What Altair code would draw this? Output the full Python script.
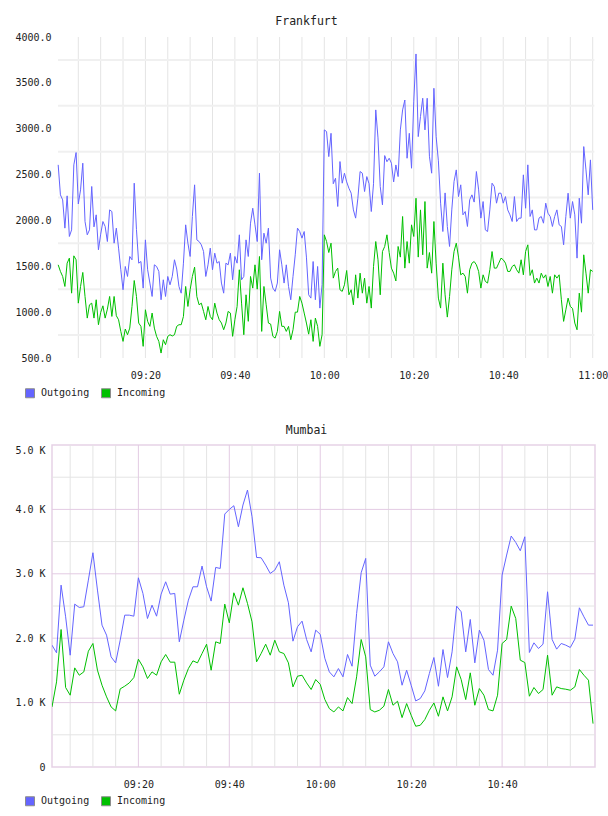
import altair as alt
import pandas as pd

# ---------------------------------------------------------------------------
# Traffic samples
# Frankfurt: one sample every 30 s, 09:00:30 .. 11:00:00
fra_outgoing = [
    2606, 2279, 2224, 1916, 2268, 1825, 1897, 2606, 2740, 2180,
    2333, 2624, 1988, 1843, 1897, 2370, 1930, 2061, 1680, 1850,
    1988, 1934, 1770, 2115, 2097, 1752, 1916, 1698, 1462, 1244,
    1498, 1389, 1607, 1571, 2406, 1900, 1534, 1552, 1262, 1788,
    1462, 1317, 1171, 1516, 1498, 1444, 1135, 1353, 1171, 1389,
    1298, 1389, 1571, 1470, 1280, 1207, 1534, 1952, 1752, 1607,
    2043, 2388, 1788, 1770, 1734, 1661, 1389, 1516, 1698, 1462,
    1643, 1534, 1552, 1317, 1207, 1534, 1516, 1643, 1353, 1607,
    1534, 1843, 1353, 1389, 1788, 1607, 1970, 2133, 1952, 1770,
    2515, 1571, 1861, 1752, 1916, 1371, 1262, 1226, 1317, 1680,
    1516, 1317, 1516, 1280, 1135, 1389, 1625, 1916, 1879, 1807,
    1879, 1600, 1189, 1153, 1552, 1135, 1498, 1044, 1300, 2987,
    2969, 2696, 2950, 2400, 2460, 2152, 2642, 2406, 2515, 2420,
    2351, 2297, 2115, 2025, 2242, 2533, 2515, 2315, 2478, 2400,
    2097, 2400, 3205, 2900, 2370, 2170, 2707, 2640, 2678, 2624,
    2420, 2605, 2478, 2987, 3205, 3313, 2678, 2950, 2569, 3300,
    3815, 2914, 3132, 3332, 2987, 3332, 2700, 2515, 3441, 2914,
    2650, 2188, 1879, 2300, 1934, 1716, 2115, 2424, 2551, 2260,
    2388, 2061, 2097, 1934, 2224, 2279, 2200, 2533, 2333, 2025,
    2206, 1897, 1879, 2115, 2406, 2370, 2188, 2297, 2297, 2188,
    2260, 2115, 2061, 1988, 2260, 1988, 2025, 2025, 2497, 2133,
    2606, 2043, 2115, 1897, 1897, 2025, 2043, 1970, 2188, 2079,
    2043, 1934, 2043, 2115, 1952, 1934, 1734, 2043, 2297, 2025,
    2206, 2061, 1589, 2242, 1970, 2805, 2551, 2279, 2660, 2115,
]
fra_incoming = [
    1516, 1444, 1389, 1280, 1534, 1589, 1207, 1614, 1571, 1098,
    1280, 1433, 1171, 935, 1080, 1098, 935, 1135, 863, 997,
    1069, 935, 1033, 1171, 953, 1171, 961, 917, 790, 681,
    816, 754, 826, 1062, 1345, 1171, 881, 845, 627, 1026,
    899, 845, 990, 826, 736, 681, 554, 699, 645, 736,
    754, 740, 754, 845, 863, 863, 953, 1280, 1062, 1244,
    1389, 1491, 1170, 1080, 1098, 1008, 917, 1062, 953, 917,
    1098, 990, 917, 881, 808, 881, 1008, 990, 736, 917,
    1062, 1462, 1098, 754, 1189, 900, 1389, 1262, 1516, 1250,
    1607, 790, 1280, 1080, 881, 870, 736, 717, 790, 1008,
    845, 845, 790, 845, 699, 808, 1000, 1000, 1171, 1098,
    990, 881, 760, 917, 681, 935, 845, 627, 754, 1843,
    1770, 1650, 1752, 1371, 1444, 1480, 1244, 1226, 1298, 1454,
    1189, 1244, 1080, 1407, 1153, 1425, 1207, 1371, 1098, 1280,
    1044, 1498, 1770, 1571, 1189, 1661, 1716, 1843, 1650, 1480,
    1425, 1340, 1716, 1600, 2043, 1480, 1770, 1534, 1952, 1825,
    2242, 1600, 2115, 1625, 2206, 1480, 1650, 1425, 1988, 1534,
    1153, 1044, 1534, 1189, 946, 1171, 1462, 1661, 1752, 1600,
    1407, 1425, 1389, 1207, 1462, 1534, 1552, 1516, 1444, 1262,
    1407, 1335, 1317, 1462, 1661, 1480, 1480, 1534, 1589, 1571,
    1534, 1444, 1444, 1498, 1516, 1462, 1425, 1571, 1407, 1661,
    1734, 1400, 1462, 1317, 1371, 1317, 1425, 1371, 1407, 1280,
    1389, 1207, 1407, 1371, 1407, 1135, 899, 1026, 1153, 1062,
    1040, 881, 808, 1207, 1000, 1625, 1425, 1207, 1462, 1444,
]

# Mumbai: one sample per minute, 09:01 .. 11:00
mum_outgoing = [
    1892, 1773, 2824, 2332, 1736, 2529, 2477, 2488, 2902, 3327,
    2747, 2203, 2047, 1710, 1617, 1969, 2358, 2358, 2342, 2938,
    2695, 2306, 2513, 2342, 2684, 2876, 2684, 2695, 1944, 2280,
    2591, 2798, 2798, 3120, 2798, 2576, 3099, 3083, 3928, 4000,
    4057, 3731, 4068, 4301, 3886, 3254, 3249, 3135, 3006, 3057,
    3187, 2824, 2550, 1954, 2177, 2265, 1980, 1788, 2125, 2060,
    1690, 1477, 1400, 1529, 1400, 1747, 1565, 2384, 3016, 3239,
    1581, 1410, 1477, 1555, 1944, 1762, 1633, 1270, 1503, 1270,
    1026, 1063, 1182, 1451, 1700, 1254, 1824, 1389, 1788, 2498,
    2410, 1788, 2291, 1617, 2125, 1969, 1514, 1425, 1814, 2980,
    3291, 3586, 3487, 3358, 3575, 1778, 1928, 1840, 1907, 2721,
    1980, 1830, 1918, 1892, 1856, 1985, 2472, 2332, 2203, 2203,
]
mum_incoming = [
    933, 1322, 2135, 1234, 1115, 1539, 1425, 1477, 1798, 1918,
    1503, 1270, 1089, 933, 871, 1213, 1255, 1306, 1389, 1674,
    1555, 1374, 1477, 1425, 1633, 1747, 1628, 1628, 1130, 1348,
    1529, 1648, 1617, 1762, 1907, 1503, 1944, 1918, 2529, 2239,
    2705, 2513, 2783, 2539, 2254, 1633, 1762, 1907, 1736, 1969,
    1788, 1762, 1617, 1244, 1410, 1425, 1306, 1203, 1358, 1283,
    1050, 907, 855, 933, 871, 1078, 985, 1400, 1980, 1710,
    892, 855, 881, 944, 1203, 959, 1021, 767, 985, 804,
    633, 648, 736, 881, 995, 788, 1089, 871, 1089, 1555,
    1358, 1047, 1462, 959, 1218, 1115, 892, 871, 1115, 1918,
    1980, 2498, 2306, 1659, 1622, 1099, 1234, 1141, 1203, 1736,
    1115, 1244, 1218, 1208, 1192, 1244, 1514, 1425, 1348, 674,
]

series = ["Outgoing", "Incoming"]
series_colors = ["#6464ff", "#00c000"]

# Axis values
fra_y_labels = [500, 1000, 1500, 2000, 2500, 3000, 3500, 4000]
fra_y_grid = [750, 1250, 1750, 2250, 2750, 3250, 3750]
mum_y_labels = [0, 1000, 2000, 3000, 4000, 5000]
mum_y_minor = [500, 1500, 2500, 3500, 4500]
mum_y_major = [1000, 2000, 3000, 4000]

DAY = "2024-01-01"
FONT = "DejaVu Sans Mono"
TEXT = "#222222"


def dt(h, m, s=0):
    return alt.DateTime(year=2024, month=1, date=1, hours=h, minutes=m, seconds=s)


def ts(text):
    return pd.Timestamp(f"{DAY} {text}")


def long_frame(times, outgoing, incoming):
    return pd.concat(
        [
            pd.DataFrame({"time": times, "series": "Outgoing", "value": outgoing}),
            pd.DataFrame({"time": times, "series": "Incoming", "value": incoming}),
        ],
        ignore_index=True,
    )


fra_times = pd.date_range(f"{DAY} 09:00:30", periods=len(fra_outgoing), freq="30s")
mum_times = pd.date_range(f"{DAY} 09:01:00", periods=len(mum_outgoing), freq="1min")
fra_df = long_frame(fra_times, fra_outgoing, fra_incoming)
mum_df = long_frame(mum_times, mum_outgoing, mum_incoming)

label_times = [dt(9, 20), dt(9, 40), dt(10, 0), dt(10, 20), dt(10, 40), dt(11, 0)]

W = 543
H_FRA = 321
H_MUM = 322


def x_axis(values):
    return alt.Axis(
        values=values, format="%H:%M", grid=False, domain=False, ticks=False,
        title=None, labelFont=FONT, labelFontSize=10, labelColor=TEXT,
        labelPadding=12,
    )


def y_axis(values, pad, **kw):
    return alt.Axis(
        values=values, grid=False, domain=False, ticks=False, title=None,
        labelFont=FONT, labelFontSize=10, labelColor=TEXT, labelPadding=pad,
        **kw,
    )


def legend_layer(legend_y):
    # marks that only carry the square-swatch legend
    return (
        alt.Chart(pd.DataFrame({"series": series}))
        .mark_square(opacity=0, stroke="#8c8c8c", strokeWidth=1)
        .encode(
            fill=alt.Fill(
                "series:N",
                scale=alt.Scale(domain=series, range=series_colors),
                legend=alt.Legend(
                    orient="none",
                    legendX=-27,
                    legendY=legend_y,
                    direction="horizontal",
                    title=None,
                    symbolType="square",
                    symbolSize=81,
                    symbolStrokeWidth=1,
                    symbolStrokeColor="#8c8c8c",
                    symbolOpacity=1,
                    labelFont=FONT,
                    labelFontSize=10,
                    labelColor=TEXT,
                    labelOffset=6,
                    columnPadding=9,
                    padding=0,
                ),
            )
        )
    )


def line_layer(df, x_enc, y_enc):
    # line colours keyed alphabetically; the swatch legend comes from legend_layer
    return (
        alt.Chart(df)
        .mark_line(strokeWidth=1, clip=True)
        .encode(
            x=x_enc,
            y=y_enc,
            stroke=alt.Stroke(
                "series:N",
                scale=alt.Scale(domain=sorted(series),
                                range=[series_colors[series.index(s)] for s in sorted(series)]),
                legend=None,
            ),
        )
    )


# ---------------------------------------------------------------- Frankfurt
fra_x = alt.Scale(domain=[dt(8, 59, 7), dt(11, 0, 31)])
fra_y = alt.Scale(domain=[500, 4000], nice=False, zero=False)
fra_xa = x_axis(label_times)
fra_ya = y_axis(fra_y_labels, 1, format=".1f")

fra_vgrid = pd.DataFrame(
    {"time": pd.date_range(f"{DAY} 09:05", f"{DAY} 11:00", freq="5min")}
)
fra_hgrid = pd.DataFrame(
    {"value": fra_y_grid, "start": ts("09:00:28"), "end": ts("11:00:22")}
)

fra_vlines = (
    alt.Chart(fra_vgrid)
    .mark_rule(color="#e4e4e4", strokeWidth=1)
    .encode(x=alt.X("time:T", scale=fra_x, axis=fra_xa))
)
fra_hlines = (
    alt.Chart(fra_hgrid)
    .mark_rule(color="#f0f0f0", strokeWidth=2)
    .encode(
        x=alt.X("start:T", scale=fra_x, axis=fra_xa),
        x2="end:T",
        y=alt.Y("value:Q", scale=fra_y, axis=fra_ya),
    )
)
fra_lines = line_layer(
    fra_df,
    alt.X("time:T", scale=fra_x, axis=fra_xa),
    alt.Y("value:Q", scale=fra_y, axis=fra_ya),
)

frankfurt = alt.layer(fra_vlines, fra_hlines, fra_lines, legend_layer(351)).properties(
    width=W,
    height=H_FRA,
    title=alt.TitleParams(
        "Frankfurt", font=FONT, fontSize=11.5, fontWeight="normal",
        color=TEXT, anchor="middle", dx=-17, offset=5,
    ),
)

# ------------------------------------------------------------------- Mumbai
mum_x = alt.Scale(domain=[dt(9, 1, 0), dt(11, 0, 26)])
mum_y = alt.Scale(domain=[0, 5000], nice=False)
mum_xa = x_axis(label_times[:-1])
mum_ya = y_axis(
    mum_y_labels, 7,
    labelExpr="datum.value == 0 ? '0' : format(datum.value / 1000, '.1f') + ' K'",
    labelBaseline={"condition": {"test": "datum.value == 5000", "value": "top"},
                   "value": "middle"},
)

mum_grid_times = pd.date_range(f"{DAY} 09:05", f"{DAY} 10:55", freq="5min")
mum_major_t = mum_grid_times[mum_grid_times.minute % 20 == 0]
mum_minor_t = mum_grid_times[mum_grid_times.minute % 20 != 0]

PINK = "#e3cbe3"
GREY = "#e4e4e4"

mum_vminor = (
    alt.Chart(pd.DataFrame({"time": mum_minor_t}))
    .mark_rule(color=GREY, strokeWidth=1)
    .encode(x=alt.X("time:T", scale=mum_x, axis=mum_xa))
)
mum_hminor = (
    alt.Chart(pd.DataFrame({"value": mum_y_minor}))
    .mark_rule(color=GREY, strokeWidth=1)
    .encode(y=alt.Y("value:Q", scale=mum_y, axis=mum_ya))
)
mum_vmajor = (
    alt.Chart(pd.DataFrame({"time": mum_major_t}))
    .mark_rule(color=PINK, strokeWidth=1)
    .encode(x=alt.X("time:T", scale=mum_x, axis=mum_xa))
)
mum_hmajor = (
    alt.Chart(pd.DataFrame({"value": mum_y_major}))
    .mark_rule(color=PINK, strokeWidth=1)
    .encode(y=alt.Y("value:Q", scale=mum_y, axis=mum_ya))
)
mum_lines = line_layer(
    mum_df,
    alt.X("time:T", scale=mum_x, axis=mum_xa),
    alt.Y("value:Q", scale=mum_y, axis=mum_ya),
)

mumbai = alt.layer(
    mum_vminor, mum_hminor, mum_vmajor, mum_hmajor, mum_lines, legend_layer(351)
).properties(
    width=W,
    height=H_MUM,
    title=alt.TitleParams(
        "Mumbai", font=FONT, fontSize=11.5, fontWeight="normal",
        color=TEXT, anchor="middle", dx=-17, offset=8,
    ),
    view=alt.ViewBackground(stroke="#e6d2e6", strokeWidth=1.5),
)

chart = (
    alt.vconcat(frankfurt, mumbai, spacing=24)
    .resolve_scale(fill="independent", stroke="independent")
    .properties(padding={"left": 14, "top": 15, "right": 0, "bottom": 0})
    .configure(background="white")
    .configure_view(strokeWidth=0)
)

chart.save("out.html", embed_options={"renderer": "svg", "actions": False})
